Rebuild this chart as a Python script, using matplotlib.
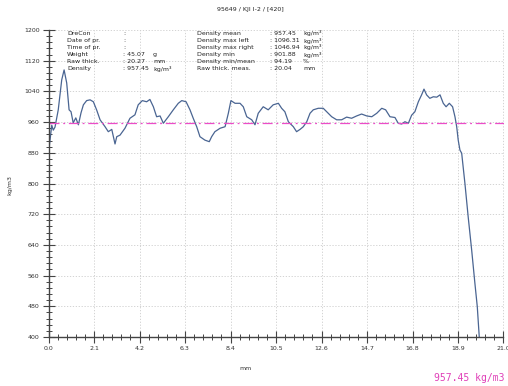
import matplotlib
matplotlib.use("Agg")
import matplotlib.pyplot as plt
from matplotlib.ticker import MultipleLocator

# density profile
pos_mm = [0.0, 0.07, 0.15, 0.22, 0.30, 0.45, 0.61, 0.72, 0.84, 0.95, 1.04, 1.14, 1.26, 1.38,
          1.50, 1.61, 1.76, 1.92, 2.07, 2.22, 2.38, 2.61, 2.76, 2.92, 3.07, 3.15, 3.30, 3.53,
          3.76, 3.99, 4.14, 4.33, 4.53, 4.68, 4.84, 4.99, 5.15, 5.30, 5.53, 5.76, 5.99, 6.15,
          6.35, 6.53, 6.68, 6.84, 6.99, 7.22, 7.42, 7.53, 7.68, 7.92, 8.15, 8.30, 8.42, 8.61,
          8.84, 8.99, 9.15, 9.38, 9.53, 9.68, 9.91, 10.14, 10.37, 10.61, 10.76, 10.91, 11.07,
          11.30, 11.45, 11.61, 11.76, 11.92, 12.07, 12.22, 12.45, 12.68, 12.84, 13.07, 13.30,
          13.53, 13.76, 13.99, 14.22, 14.45, 14.69, 14.92, 15.15, 15.38, 15.56, 15.76, 15.99,
          16.14, 16.30, 16.45, 16.61, 16.76, 16.91, 17.07, 17.22, 17.33, 17.45, 17.60, 17.76,
          17.92, 18.07, 18.22, 18.35, 18.50, 18.65, 18.76, 18.84, 18.91, 18.99, 19.07, 19.22,
          19.37, 19.53, 19.68, 19.79, 19.88]
density = [880, 913, 952, 939, 947, 992, 1070, 1096, 1062, 992, 987, 958, 971, 953,
           984, 1005, 1016, 1018, 1013, 992, 966, 948, 935, 941, 903, 922, 926, 944,
           970, 979, 1005, 1016, 1013, 1019, 1000, 974, 976, 957, 974, 992, 1009, 1016,
           1013, 992, 970, 948, 922, 913, 909, 922, 935, 944, 948, 983, 1016, 1009,
           1009, 1000, 974, 966, 953, 983, 1000, 992, 1005, 1009, 996, 987, 961,
           948, 935, 941, 948, 961, 983, 992, 996, 996, 987, 974, 966,
           966, 973, 970, 976, 981, 976, 974, 983, 996, 992, 974, 972,
           957, 955, 961, 957, 978, 987, 1013, 1031, 1046, 1031, 1022, 1026,
           1025, 1031, 1009, 1000, 1009, 1000, 974, 948, 913, 887, 879, 800,
           713, 627, 540, 479, 401]
mean_density = 957.45

left_names = ["DreCon", "Date of pr.", "Time of pr.", "Weight", "Raw thick.", "Density"]
left_vals = [":", ":", ":", ": 45.07", ": 20.27", ": 957.45"]
left_units = ["", "", "", "g", "mm", "kg/m³"]
right_names = ["Density mean", "Density max left", "Density max right", "Density min",
               "Density min/mean", "Raw thick. meas."]
right_vals = [": 957.45", ": 1096.31", ": 1046.94", ": 901.88", ": 94.19", ": 20.04"]
right_units = ["kg/m³", "kg/m³", "kg/m³", "kg/m³", "%", "mm"]

W, H = 508, 386
fig = plt.figure(figsize=(W / 100, H / 100), dpi=100)
ax = fig.add_axes([48.5 / W, 1 - 337 / H, 455 / W, 307 / H])

ax.plot(pos_mm, density, color="#4a6592", lw=0.9)
ax.axhline(mean_density, color="#ec4cc8", lw=0.9, ls=(0, (8, 3, 1.5, 3)))

ax.set_xlim(0, 21)
ax.set_ylim(400, 1200)
ax.xaxis.set_major_locator(MultipleLocator(2.1))
ax.xaxis.set_minor_locator(MultipleLocator(0.42))
ax.yaxis.set_major_locator(MultipleLocator(80))
ax.yaxis.set_minor_locator(MultipleLocator(16))
ax.set_xticklabels([f"{v:.1f}" for v in ax.get_xticks()])
ax.tick_params(which="major", direction="inout", length=9, width=0.8, color="#444444",
               labelsize=4.5, labelcolor="#333333", pad=2)
ax.tick_params(which="minor", direction="inout", length=5, width=0.7, color="#444444")
ax.grid(which="major", color="#cccccc", ls=(0, (1.5, 2)), lw=0.6)
for s in ["top", "right"]:
    ax.spines[s].set_visible(False)
for s in ["left", "bottom"]:
    ax.spines[s].set_color("#444444")
    ax.spines[s].set_linewidth(1.0)

def ftext(px, py, s, **kw):
    fig.text(px / W, 1 - py / H, s, fontsize=4.5, color="#222222", va="center", **kw)

ftext(250, 10, "95649 / KJI I-2 / [420]", ha="center")
rows = [33.5, 40.5, 47.5, 54.5, 61.5, 68.5]
for i, y in enumerate(rows):
    ftext(67, y, left_names[i])
    ftext(123, y, left_vals[i])
    ftext(153, y, left_units[i])
    ftext(197, y, right_names[i])
    ftext(270, y, right_vals[i])
    ftext(303, y, right_units[i])

fig.text(10 / W, 1 - 185 / H, "kg/m3", fontsize=4.5, rotation=90, ha="center", va="center",
         color="#333333")
fig.text(245 / W, 1 - 368 / H, "mm", fontsize=4.5, ha="center", va="center", color="#333333")
fig.text(505 / W, 1 - 378 / H, "957.45 kg/m3", fontsize=7, family="DejaVu Sans Mono",
         ha="right", va="center", color="#e040b8")

fig.savefig("out.png", dpi=100)
